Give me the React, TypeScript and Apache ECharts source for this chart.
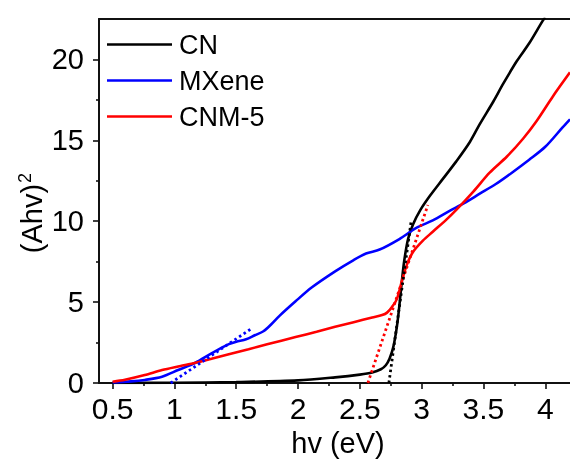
import React, { useEffect, useRef } from "react";
import * as echarts from "echarts";

const FONT = "'Liberation Sans', Arial, Helvetica, sans-serif";

const xMajorTicks = [0.5, 1, 1.5, 2, 2.5, 3, 3.5, 4];
const xMinorTicks = [0.75, 1.25, 1.75, 2.25, 2.75, 3.25, 3.75];
const yMajorTicks = [0, 5, 10, 15, 20];
const yMinorTicks = [2.5, 7.5, 12.5, 17.5];

const cnX = [0.5, 1.0, 1.5, 2.0, 2.3, 2.5, 2.6, 2.67, 2.71, 2.74, 2.77, 2.8, 2.82, 2.84, 2.86, 2.89, 2.93, 2.99, 3.07, 3.17, 3.28, 3.39, 3.47, 3.58, 3.66, 3.77, 3.87, 3.98, 4.0];
const cnY = [0.0, 0.02, 0.06, 0.16, 0.35, 0.52, 0.65, 0.85, 1.1, 1.5, 2.2, 3.5, 4.8, 6.3, 7.6, 8.9, 9.8, 10.7, 11.6, 12.6, 13.7, 14.9, 16.0, 17.4, 18.5, 19.9, 21.0, 22.4, 22.6];

const mxX = [0.5, 0.65, 0.76, 0.9, 1.03, 1.17, 1.3, 1.44, 1.5, 1.58, 1.65, 1.72, 1.78, 1.85, 1.98, 2.11, 2.3, 2.45, 2.55, 2.66, 2.82, 2.96, 3.09, 3.23, 3.34, 3.47, 3.6, 3.73, 3.87, 4.0, 4.14, 4.2];
const mxY = [0.04, 0.1, 0.19, 0.39, 0.8, 1.25, 1.83, 2.4, 2.55, 2.7, 2.95, 3.2, 3.6, 4.15, 5.05, 5.9, 6.9, 7.6, 8.0, 8.25, 8.9, 9.6, 10.05, 10.65, 11.1, 11.7, 12.3, 13.0, 13.8, 14.6, 15.8, 16.3];

const cnmX = [0.5, 0.6, 0.76, 0.9, 1.05, 1.17, 1.3, 1.44, 1.6, 1.75, 1.98, 2.15, 2.3, 2.45, 2.6, 2.68, 2.72, 2.76, 2.8, 2.84, 2.88, 2.93, 3.01, 3.09, 3.2, 3.28, 3.42, 3.55, 3.69, 3.82, 3.93, 4.06, 4.2];
const cnmY = [0.08, 0.2, 0.49, 0.8, 1.05, 1.25, 1.5, 1.78, 2.09, 2.39, 2.84, 3.17, 3.47, 3.76, 4.05, 4.2, 4.35, 4.7, 5.2, 6.3, 7.3, 8.1, 8.8, 9.35, 10.1, 10.7, 11.85, 13.0, 14.0, 15.1, 16.2, 17.7, 19.2];

// tangent (Tauc) fit lines: [x0, x1], [y0, y1]
const mxFitX = [0.97, 1.63];
const mxFitY = [0.0, 3.4];
const cnmFitX = [2.565, 3.05];
const cnmFitY = [0.0, 11.0];
const cnFitX = [2.735, 2.915];
const cnFitY = [0.0, 10.0];

const zip = (xs: number[], ys: number[]) => xs.map((x, i) => [x, ys[i]]);

export default function App() {
  const ref = useRef<HTMLDivElement>(null);
  useEffect(() => {
    if (!ref.current) return;
    const chart = echarts.init(ref.current, null, { renderer: "svg" });
    const axisCommon = {
      type: "value" as const,
      min: 0.39,
      max: 4.2,
      splitLine: { show: false },
    };
    const lineSeries = (name: string, xs: number[], ys: number[], color: string) => ({
      name,
      type: "line",
      data: zip(xs, ys),
      symbol: "none",
      smooth: 0.3,
      lineStyle: { color, width: 2.6 },
      itemStyle: { color },
      clip: true,
      z: 3,
    });
    const fitSeries = (xs: number[], ys: number[], color: string) => ({
      name: "fit",
      type: "line",
      data: zip(xs, ys),
      symbol: "none",
      lineStyle: { color, width: 2.8, type: [2.5, 3] },
      itemStyle: { color },
      z: 4,
    });
    chart.setOption({
      animation: false,
      grid: { left: 99, right: 0, top: 19, bottom: 76 },
      xAxis: [
        {
          ...axisCommon,
          position: "bottom",
          axisLine: { show: true, lineStyle: { color: "#111", width: 2 } },
          axisTick: { show: true, customValues: xMajorTicks, length: 6, lineStyle: { color: "#111", width: 1.6 } },
          axisLabel: { show: true, customValues: xMajorTicks, fontSize: 30, color: "#000", fontFamily: FONT, margin: 10 },
        },
        {
          ...axisCommon,
          position: "bottom",
          axisLine: { show: false },
          axisTick: { show: true, customValues: xMinorTicks, length: 3, lineStyle: { color: "#111", width: 1.6 } },
          axisLabel: { show: false },
        },
        {
          ...axisCommon,
          position: "top",
          axisLine: { show: true, lineStyle: { color: "#111", width: 2 } },
          axisTick: { show: false },
          axisLabel: { show: false },
        },
      ],
      yAxis: [
        {
          type: "value",
          min: 0,
          max: 22.5,
          position: "left",
          splitLine: { show: false },
          axisLine: { show: true, lineStyle: { color: "#111", width: 2 } },
          axisTick: { show: true, customValues: yMajorTicks, length: 6, lineStyle: { color: "#111", width: 1.6 } },
          axisLabel: { show: true, customValues: yMajorTicks, fontSize: 29, color: "#000", fontFamily: FONT, margin: 15 },
        },
        {
          type: "value",
          min: 0,
          max: 22.5,
          position: "left",
          splitLine: { show: false },
          axisLine: { show: false },
          axisTick: { show: true, customValues: yMinorTicks, length: 3, lineStyle: { color: "#111", width: 1.6 } },
          axisLabel: { show: false },
        },
      ],
      legend: {
        data: ["CN", "MXene", "CNM-5"],
        orient: "vertical",
        left: 107,
        top: 31,
        padding: 0,
        icon: "rect",
        itemWidth: 65,
        itemHeight: 2.6,
        itemGap: 9,
        textStyle: { fontSize: 27, lineHeight: 26, color: "#000", fontFamily: FONT, padding: [0, 0, 0, 2] },
      },
      graphic: [
        {
          type: "text",
          x: 31,
          y: 213,
          rotation: Math.PI / 2,
          style: {
            text: "{a|(Ahv)}{b|2}",
            fill: "#000",
            align: "center",
            verticalAlign: "middle",
            rich: {
              a: { fontSize: 29, lineHeight: 30, fontFamily: FONT, fill: "#000", verticalAlign: "bottom" },
              b: { fontSize: 18, lineHeight: 30, fontFamily: FONT, fill: "#000", verticalAlign: "top", padding: [0, 0, 12, 1] },
            },
          },
        },
        {
          type: "text",
          x: 338,
          y: 443,
          style: { text: "hv (eV)", fontSize: 29, fill: "#000", fontFamily: FONT, align: "center", verticalAlign: "middle" },
        },
      ],
      series: [
        lineSeries("CN", cnX, cnY, "#000000"),
        lineSeries("MXene", mxX, mxY, "#0000ff"),
        lineSeries("CNM-5", cnmX, cnmY, "#ff0000"),
        fitSeries(mxFitX, mxFitY, "#0000ff"),
        fitSeries(cnmFitX, cnmFitY, "#ff0000"),
        fitSeries(cnFitX, cnFitY, "#000000"),
      ],
    });
    return () => chart.dispose();
  }, []);
  return <div ref={ref} style={{ position: "fixed", left: 0, top: 0, width: 570, height: 459 }} />;
}
